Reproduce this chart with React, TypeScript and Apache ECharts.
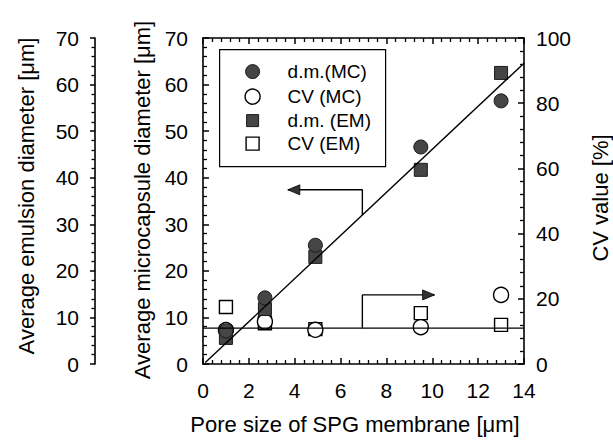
import React, { useEffect, useRef } from "react";
import * as echarts from "echarts";

// Pore size of SPG membrane [µm]
const poreSize = [1.0, 2.7, 4.9, 9.5, 13.0];
// Average microcapsule diameter [µm]
const dmMC = [7.1, 14.2, 25.5, 46.6, 56.5];
// Average emulsion diameter [µm]
const dmEM = [5.6, 11.8, 23.0, 41.7, 62.5];
// CV value [%]
const cvMC = [10.4, 13.0, 10.5, 11.3, 21.2];
const cvEM = [17.5, 12.5, 10.7, 15.6, 12.0];

// fitted lines
const fitDiameter = [[0.1, 0.3], [14, 64.6]];
const fitCV = [[0, 11], [14, 11]];

// arrows (from the fit line, up, then to the tip)
const arrowDiam = [[6.95, 31.9], [6.95, 37.4], [3.7, 37.4]];
const arrowCV = [[6.95, 11], [6.95, 21.2], [10.1, 21.2]];

const xTicks = { min: 0, max: 14, interval: 2 };
const yDiamTicks = { min: 0, max: 70, interval: 10 };
const yCVTicks = { min: 0, max: 100, interval: 20 };

const legendNames = ["d.m.(MC)", "CV (MC)", "d.m. (EM)", "CV (EM)"];
const legendShapes = ["filledCircle", "openCircle", "filledRect", "openRect"];

const xTitle = "Pore size of SPG membrane [\u03bcm]";
const yMainTitle = "Average microcapsule diameter [\u03bcm]";
const yCVTitle = "CV value [%]";
const yEmTitle = "Average emulsion diameter [\u03bcm]";

const FONT = "'Liberation Sans', Arial, sans-serif";

export default function App() {
  const ref = useRef<HTMLDivElement>(null);

  useEffect(() => {
    if (!ref.current) return;
    const chart = echarts.init(ref.current, null, { renderer: "svg" });
    const zip = (ys: number[]) => poreSize.map((x, i) => [x, ys[i]]);
    const axisLine = () => ({ show: true, onZero: false, lineStyle: { color: "#000", width: 1.6 } });
    const tickIn = () => ({ show: true, inside: true, length: 6, lineStyle: { color: "#000", width: 1.5 } });
    const minorIn = () => ({ show: true, splitNumber: 5, length: 4, lineStyle: { color: "#000", width: 1.3 } });
    const label = () => ({ color: "#000", fontSize: 21, fontFamily: FONT });

    const FILL = "#454545";
    const filled = () => ({ color: FILL, borderColor: "#1a1a1a", borderWidth: 1, opacity: 1 });
    const open = () => ({ color: "#fff", borderColor: "#000", borderWidth: 1.4, opacity: 1 });

    const arrow = (data: number[][], yAxisIndex: number, rotate: number, offX: number) => ({
      type: "line",
      xAxisIndex: 0,
      yAxisIndex,
      data,
      silent: true,
      showSymbol: true,
      symbol: (_v: unknown, p: { dataIndex: number }) => (p.dataIndex === data.length - 1 ? "triangle" : "none"),
      symbolSize: [10, 12],
      symbolRotate: rotate,
      symbolOffset: [offX, 0],
      itemStyle: { color: "#333", borderColor: "#000", borderWidth: 0.8, opacity: 1 },
      lineStyle: { color: "#000", width: 1.4 },
    });

    // legend box drawn as graphic elements
    const rowY = [22, 47, 71, 94];
    const legendChildren: any[] = [
      { type: "rect", shape: { x: 0, y: 0, width: 166, height: 117 }, style: { fill: "#fff", stroke: "#000", lineWidth: 1.2 } },
    ];
    legendNames.forEach((nm, i) => {
      const y = rowY[i];
      const shape = legendShapes[i];
      if (shape === "filledCircle")
        legendChildren.push({ type: "circle", shape: { cx: 33, cy: y, r: 7 }, style: { fill: FILL, stroke: "#1a1a1a", lineWidth: 1 } });
      if (shape === "openCircle")
        legendChildren.push({ type: "circle", shape: { cx: 33, cy: y, r: 7.5 }, style: { fill: "#fff", stroke: "#000", lineWidth: 1.4 } });
      if (shape === "filledRect")
        legendChildren.push({ type: "rect", shape: { x: 27, y: y - 6, width: 12, height: 12 }, style: { fill: FILL, stroke: "#1a1a1a", lineWidth: 1 } });
      if (shape === "openRect")
        legendChildren.push({ type: "rect", shape: { x: 26.5, y: y - 6.5, width: 13, height: 13 }, style: { fill: "#fff", stroke: "#000", lineWidth: 1.4 } });
      legendChildren.push({
        type: "text",
        x: 68,
        y,
        style: { text: nm, fill: "#000", font: `19px ${FONT}`, verticalAlign: "middle" },
      });
    });

    const title = (text: string, x: number, y: number, rot: number) => ({
      type: "text",
      x,
      y,
      rotation: rot,
      style: { text, fill: "#000", font: `22px ${FONT}`, align: "center", verticalAlign: "middle" },
    });

    chart.setOption({
      animation: false,
      backgroundColor: "#fff",
      textStyle: { fontFamily: FONT },
      grid: { left: 203, right: 89, top: 38, bottom: 77 },
      graphic: [
        { type: "group", left: 219, top: 49, z: 100, children: legendChildren },
        title(xTitle, 355, 424, 0),
        title(yMainTitle, 142, 200, Math.PI / 2),
        title(yEmTitle, 26, 196, Math.PI / 2),
        title(yCVTitle, 600, 198, Math.PI / 2),
      ],
      xAxis: [
        {
          type: "value",
          position: "bottom",
          ...xTicks,
          axisLine: axisLine(),
          axisTick: tickIn(),
          minorTick: minorIn(),
          splitLine: { show: false },
          axisLabel: { ...label(), margin: 16 },
        },
        {
          type: "value",
          position: "top",
          ...xTicks,
          axisLine: axisLine(),
          axisTick: tickIn(),
          minorTick: minorIn(),
          splitLine: { show: false },
          axisLabel: { show: false },
        },
      ],
      yAxis: [
        {
          type: "value",
          position: "left",
          ...yDiamTicks,
          axisLine: axisLine(),
          axisTick: tickIn(),
          minorTick: minorIn(),
          splitLine: { show: false },
          axisLabel: { ...label(), margin: 15 },
        },
        {
          type: "value",
          position: "right",
          ...yCVTicks,
          axisLine: axisLine(),
          axisTick: tickIn(),
          minorTick: minorIn(),
          splitLine: { show: false },
          axisLabel: { ...label(), margin: 12 },
        },
        {
          type: "value",
          position: "left",
          offset: 108,
          ...yDiamTicks,
          axisLine: axisLine(),
          axisTick: { show: true, inside: false, length: 5, lineStyle: { color: "#000", width: 1.5 } },
          minorTick: { show: true, splitNumber: 5, length: 3.5, lineStyle: { color: "#000", width: 1.3 } },
          splitLine: { show: false },
          axisLabel: { ...label(), margin: 16 },
        },
      ],
      series: [
        {
          type: "line",
          name: "fit-diameter",
          xAxisIndex: 0,
          yAxisIndex: 0,
          data: fitDiameter,
          symbol: "none",
          silent: true,
          lineStyle: { color: "#000", width: 1.4 },
        },
        {
          type: "line",
          name: "fit-cv",
          xAxisIndex: 0,
          yAxisIndex: 1,
          data: fitCV,
          symbol: "none",
          silent: true,
          lineStyle: { color: "#000", width: 1.4 },
        },
        arrow(arrowDiam, 0, 90, 6),
        arrow(arrowCV, 1, -90, -6),
        {
          type: "scatter",
          name: "CV (EM)",
          xAxisIndex: 0,
          yAxisIndex: 1,
          data: zip(cvEM),
          symbol: "rect",
          symbolSize: 13,
          itemStyle: open(),
        },
        {
          type: "scatter",
          name: "CV (MC)",
          xAxisIndex: 0,
          yAxisIndex: 1,
          data: zip(cvMC),
          symbol: "circle",
          symbolSize: 15,
          itemStyle: open(),
        },
        {
          type: "scatter",
          name: "d.m. (EM)",
          xAxisIndex: 0,
          yAxisIndex: 0,
          data: zip(dmEM),
          symbol: "rect",
          symbolSize: 13,
          itemStyle: filled(),
        },
        {
          type: "scatter",
          name: "d.m.(MC)",
          xAxisIndex: 0,
          yAxisIndex: 0,
          data: zip(dmMC),
          symbol: "circle",
          symbolSize: 14,
          itemStyle: filled(),
        },
      ],
    });
    return () => chart.dispose();
  }, []);

  return (
    <div
      ref={ref}
      style={{ position: "fixed", left: 0, top: 0, width: 613, height: 441, background: "#fff" }}
    />
  );
}
